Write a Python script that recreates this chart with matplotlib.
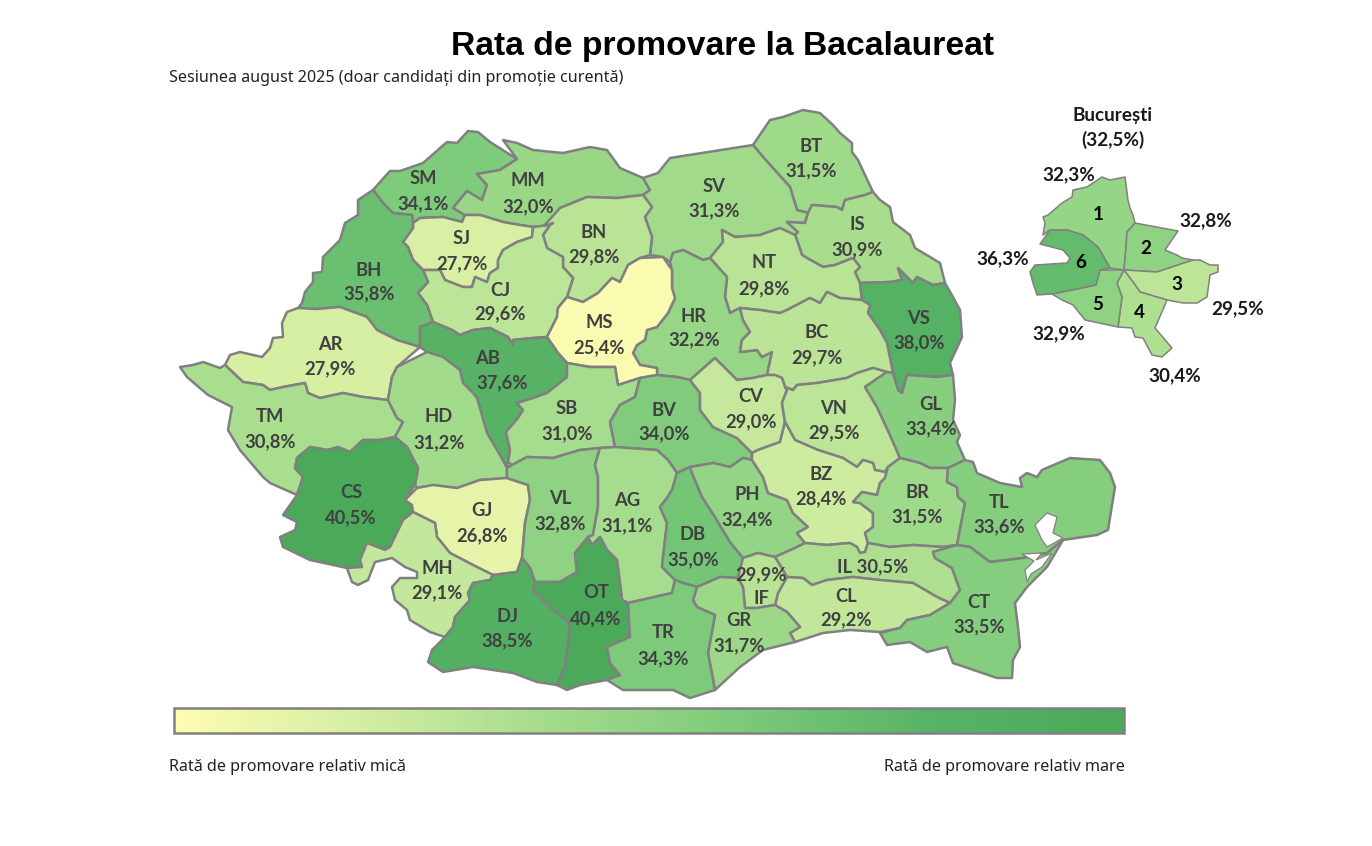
#!/usr/bin/env python3
"""Rata de promovare la Bacalaureat, sesiunea august 2025: harta pe judete."""

import matplotlib
matplotlib.use("Agg")
import matplotlib.pyplot as plt
import numpy as np
from matplotlib.colors import LinearSegmentedColormap, Normalize
from matplotlib.patches import Polygon, Rectangle

# Date citite de pe harta
COUNTIES = ["SM", "MM", "BT", "SV", "IS", "NT", "BN", "SJ", "CJ", "BH", "HR", "MS",
            "AB", "AR", "VS", "BC", "SB", "BV", "CV", "VN", "GL", "TM", "HD", "CS",
            "GJ", "VL", "AG", "DB", "PH", "BZ", "BR", "TL", "MH", "IL", "CL", "IF",
            "GR", "CT", "DJ", "OT", "TR"]
RATES = [34.1, 32.0, 31.5, 31.3, 30.9, 29.8, 29.8, 27.7, 29.6, 35.8, 32.2, 25.4,
         37.6, 27.9, 38.0, 29.7, 31.0, 34.0, 29.0, 29.5, 33.4, 30.8, 31.2, 40.5,
         26.8, 32.8, 31.1, 35.0, 32.4, 28.4, 31.5, 33.6, 29.1, 30.5, 29.2, 29.9,
         31.7, 33.5, 38.5, 40.4, 34.3]
SECTORS = ["1", "2", "3", "4", "5", "6"]
SECTOR_RATES = [32.3, 32.8, 29.5, 30.4, 32.9, 36.3]
BUCHAREST_RATE = 32.5

TITLE = "Rata de promovare la Bacalaureat"
SUBTITLE = "Sesiunea august 2025 (doar candidați din promoție curentă)"
LEGEND_LOW = "Rată de promovare relativ mică"
LEGEND_HIGH = "Rată de promovare relativ mare"

# Contururile judetelor, in pixeli ai imaginii
OUTLINES = {
    "SM": [(373,190),(390,171),(400,171),(423,163),(447,142),(457,143),(468,131),(478,132),(490,142),(517,159),(500,170),(477,174),(487,185),(482,200),(467,191),(453,208),(465,215),(462,222),(443,217),(420,218),(413,223),(412,215),(393,213),(383,203)],
    "MM": [(503,140),(517,143),(533,150),(563,153),(590,147),(607,150),(620,168),(643,178),(650,190),(643,195),(617,198),(587,197),(560,208),(553,223),(550,225),(533,227),(520,225),(503,222),(480,215),(465,215),(453,208),(467,191),(482,200),(487,185),(477,174),(500,170),(517,159)],
    "SJ": [(413,223),(420,218),(443,217),(462,222),(465,215),(480,215),(503,222),(520,225),(533,227),(532,237),(517,242),(503,250),(498,260),(498,268),(490,273),(487,282),(475,277),(472,287),(463,287),(445,280),(440,270),(423,270),(413,260),(408,247),(403,242),(413,228)],
    "BH": [(373,190),(358,200),(358,215),(345,223),(340,240),(323,257),(322,272),(313,273),(313,282),(305,292),(302,303),(298,308),(317,309),(340,307),(367,317),(377,330),(397,340),(420,347),(420,327),(433,322),(427,305),(418,293),(428,282),(423,270),(413,260),(408,247),(403,242),(413,228),(413,223),(412,215),(393,213),(383,203)],
    "CJ": [(533,227),(550,225),(543,235),(547,248),(563,257),(563,267),(573,278),(567,297),(558,308),(557,317),(547,337),(533,338),(513,340),(513,345),(508,337),(490,328),(473,330),(460,335),(452,330),(433,322),(427,305),(418,293),(428,282),(423,270),(440,270),(445,280),(463,287),(472,287),(475,277),(487,282),(490,273),(498,268),(498,260),(503,250),(517,242),(532,237)],
    "AB": [(420,327),(433,322),(452,330),(460,335),(473,330),(490,328),(508,337),(513,345),(513,340),(533,338),(547,337),(558,353),(567,363),(567,377),(547,393),(533,398),(517,403),(523,410),(518,418),(506,432),(510,450),(508,462),(507,468),(500,455),(487,433),(477,398),(473,393),(463,383),(460,370),(443,357),(427,352),(420,347)],
    "MS": [(567,297),(583,302),(598,293),(612,278),(620,282),(628,265),(640,258),(663,257),(672,270),(672,288),(675,298),(668,313),(657,327),(647,330),(645,340),(637,345),(633,353),(640,365),(657,368),(657,375),(640,378),(618,385),(615,367),(590,367),(567,363),(558,353),(547,337),(557,317),(558,308)],
    "BN": [(543,227),(560,208),(587,197),(617,198),(643,195),(652,207),(645,217),(652,237),(650,255),(640,258),(628,265),(620,282),(612,278),(598,293),(583,302),(567,297),(573,278),(563,267),(563,257),(547,248),(543,235),(550,225),(553,223)],
    "SV": [(643,178),(658,173),(670,158),(753,145),(763,157),(790,187),(797,210),(808,213),(805,223),(787,222),(798,232),(795,235),(780,228),(760,235),(735,237),(722,230),(723,242),(710,258),(703,260),(683,250),(673,253),(670,262),(663,257),(650,255),(652,237),(645,217),(652,207),(643,195),(650,190)],
    "BT": [(753,145),(770,120),(783,117),(803,110),(820,113),(833,125),(840,133),(852,143),(852,152),(858,160),(865,175),(873,192),(865,195),(845,200),(842,210),(837,207),(812,205),(808,213),(797,210),(790,187),(763,157)],
    "IS": [(808,213),(812,205),(837,207),(842,210),(845,200),(865,195),(873,192),(880,200),(890,207),(893,222),(910,235),(915,248),(940,263),(945,283),(933,285),(917,277),(913,283),(898,268),(902,280),(890,282),(860,283),(855,272),(860,267),(853,258),(835,265),(823,267),(807,258),(802,255),(797,240),(795,235),(798,232),(787,222),(805,223)],
    "NT": [(710,258),(723,242),(722,230),(735,237),(760,235),(780,228),(795,235),(797,240),(802,255),(807,258),(823,267),(835,265),(853,258),(860,267),(855,272),(860,283),(862,300),(840,298),(827,292),(820,303),(810,298),(787,310),(780,313),(760,310),(740,308),(730,313),(725,297),(727,277),(718,267)],
    "HR": [(670,262),(673,253),(683,250),(703,260),(710,258),(718,267),(727,277),(725,297),(730,313),(740,308),(743,320),(750,332),(742,340),(740,352),(757,350),(762,357),(772,352),(767,375),(753,378),(737,380),(715,358),(690,380),(677,377),(657,375),(657,368),(640,365),(633,353),(637,345),(645,340),(647,330),(657,327),(668,313),(675,298),(672,288),(672,270)],
    "VS": [(945,283),(953,297),(960,310),(962,337),(950,363),(953,375),(937,377),(907,375),(902,393),(898,390),(893,373),(887,343),(880,330),(868,313),(870,305),(862,300),(860,283),(890,282),(902,280),(898,268),(913,283),(917,277),(933,285)],
    "BC": [(740,308),(760,310),(780,313),(787,310),(810,298),(820,303),(827,292),(840,298),(862,300),(870,305),(868,313),(880,330),(887,343),(893,373),(887,372),(873,368),(857,373),(847,378),(817,383),(797,385),(793,390),(785,387),(782,378),(775,375),(767,375),(772,352),(762,357),(757,350),(740,352),(742,340),(750,332),(743,320)],
    "CV": [(690,380),(715,358),(737,380),(753,378),(767,375),(775,375),(782,378),(785,387),(787,390),(782,403),(785,422),(780,442),(758,450),(752,453),(737,438),(713,427),(700,410),(700,393)],
    "VN": [(785,387),(793,390),(797,385),(817,383),(847,378),(857,373),(873,368),(887,372),(865,387),(877,407),(890,435),(900,458),(888,467),(885,472),(875,470),(873,463),(863,460),(857,467),(843,458),(818,450),(795,440),(785,422),(782,403),(787,390)],
    "GL": [(865,387),(887,372),(893,373),(898,390),(902,393),(907,375),(937,377),(953,375),(955,400),(953,420),(960,435),(957,442),(965,460),(948,468),(930,468),(920,463),(900,458),(890,435),(877,407)],
    "BR": [(888,467),(900,458),(920,463),(930,468),(948,468),(947,482),(957,487),(958,497),(965,503),(957,545),(943,547),(913,545),(890,547),(868,543),(865,533),(873,527),(873,513),(860,503),(853,502),(862,492),(877,495),(880,483),(885,478)],
    "TL": [(948,468),(965,460),(973,462),(977,473),(1000,483),(1022,487),(1020,478),(1027,473),(1037,477),(1042,470),(1070,458),(1100,460),(1110,473),(1115,487),(1108,530),(1097,535),(1063,540),(1047,553),(1023,558),(990,562),(970,547),(957,545),(965,503),(958,497),(957,487),(947,482)],
    "CT": [(957,545),(970,547),(990,562),(1023,558),(1047,553),(1063,540),(1047,567),(1027,587),(1015,603),(1018,627),(1020,647),(1013,660),(1012,678),(997,678),(953,663),(947,647),(927,652),(910,642),(887,645),(880,633),(900,628),(907,620),(930,615),(950,603),(960,590),(952,568),(935,558),(933,552)],
    "IL": [(805,543),(827,545),(850,543),(857,547),(860,553),(865,552),(868,543),(890,547),(913,545),(943,547),(957,545),(933,552),(935,558),(952,568),(960,590),(950,603),(937,597),(913,583),(880,580),(853,577),(827,580),(812,585),(803,578),(787,577),(775,557),(795,548)],
    "CL": [(787,577),(803,578),(812,585),(827,580),(853,577),(880,580),(913,583),(937,597),(950,603),(930,615),(907,620),(900,628),(880,632),(850,630),(823,633),(795,642),(790,633),(800,627),(787,612),(775,605),(778,593)],
    "IF": [(743,558),(758,553),(775,557),(787,577),(778,593),(775,605),(757,608),(745,608),(743,587),(738,578)],
    "GR": [(693,600),(697,587),(720,577),(738,578),(743,587),(745,608),(757,608),(775,605),(787,612),(800,627),(790,633),(795,642),(763,650),(740,667),(715,690),(708,653),(715,615),(697,607)],
    "PH": [(690,467),(713,463),(730,467),(743,458),(752,460),(763,477),(768,493),(787,500),(793,513),(808,527),(797,533),(805,543),(795,548),(775,557),(758,553),(743,558),(730,542),(715,517),(702,497),(692,473)],
    "BZ": [(752,453),(758,450),(780,442),(785,422),(795,440),(818,450),(843,458),(857,467),(863,460),(873,463),(875,470),(885,472),(888,467),(885,478),(880,483),(877,495),(862,492),(853,502),(860,503),(873,513),(873,527),(865,533),(868,543),(865,552),(860,553),(857,547),(850,543),(827,545),(805,543),(797,533),(808,527),(793,513),(787,500),(768,493),(763,477),(752,460)],
    "BV": [(615,447),(610,422),(620,405),(635,397),(640,378),(657,375),(677,377),(690,380),(700,393),(700,410),(713,427),(737,438),(752,453),(752,460),(743,458),(730,467),(713,463),(690,467),(677,473),(668,460),(657,450)],
    "SB": [(506,432),(518,418),(523,410),(517,403),(533,398),(547,393),(567,377),(567,363),(590,367),(615,367),(618,385),(640,378),(635,397),(620,405),(610,422),(615,447),(600,448),(580,450),(553,458),(527,457),(512,465),(508,462),(510,450)],
    "VL": [(507,468),(512,465),(527,457),(553,458),(580,450),(600,448),(595,465),(598,477),(598,507),(593,535),(588,537),(575,553),(577,572),(560,582),(535,582),(530,568),(522,558),(525,523),(530,500),(528,485),(513,480),(507,478)],
    "GJ": [(405,500),(417,488),(433,485),(457,488),(480,480),(507,478),(513,480),(528,485),(530,500),(525,523),(522,558),(517,572),(493,575),(473,565),(450,553),(437,537),(435,523),(413,512),(412,505)],
    "HD": [(427,352),(443,357),(460,370),(463,383),(473,393),(477,398),(487,433),(500,455),(507,468),(507,478),(480,480),(457,488),(433,485),(417,488),(415,485),(418,468),(407,447),(395,437),(403,422),(397,418),(388,400),(392,377),(397,367)],
    "AR": [(298,308),(287,312),(282,323),(283,337),(273,338),(270,348),(262,357),(240,352),(230,355),(225,365),(243,382),(263,385),(270,390),(283,387),(305,383),(308,393),(320,398),(343,393),(363,397),(388,400),(392,377),(397,367),(420,347),(397,340),(377,330),(367,317),(340,307),(317,309)],
    "TM": [(180,367),(193,365),(203,362),(220,368),(225,365),(243,382),(263,385),(270,390),(283,387),(305,383),(308,393),(320,398),(343,393),(363,397),(388,400),(397,418),(403,422),(395,437),(380,440),(363,440),(350,452),(338,447),(328,450),(310,447),(297,458),(295,468),(303,477),(297,495),(270,483),(263,477),(240,450),(228,430),(232,407),(208,395),(187,377)],
    "CS": [(297,458),(310,447),(328,450),(338,447),(350,452),(363,440),(380,440),(395,437),(407,447),(418,468),(415,485),(405,500),(412,505),(413,512),(403,520),(390,547),(385,550),(367,543),(360,560),(362,567),(347,568),(310,560),(283,547),(280,537),(295,530),(297,522),(283,515),(297,495),(303,477),(295,468)],
    "MH": [(413,512),(435,523),(437,537),(450,553),(473,565),(493,575),(490,580),(473,583),(468,593),(470,600),(455,617),(453,627),(445,637),(430,632),(410,620),(407,610),(395,600),(392,587),(400,578),(417,578),(417,572),(405,567),(392,558),(375,562),(368,580),(358,585),(352,582),(347,568),(362,567),(360,560),(367,543),(385,550),(390,547),(403,520)],
    "DJ": [(493,575),(517,572),(522,558),(530,568),(535,582),(533,590),(550,607),(570,623),(568,647),(565,667),(557,685),(537,682),(513,673),(473,667),(443,672),(428,662),(432,650),(445,637),(453,627),(455,617),(470,600),(468,593),(473,583),(490,580)],
    "OT": [(535,582),(560,582),(577,572),(575,553),(588,537),(592,545),(600,537),(607,550),(617,560),(622,600),(628,603),(630,637),(607,647),(610,663),(620,675),(607,680),(580,685),(567,690),(557,685),(565,667),(568,647),(570,623),(550,607),(533,590)],
    "AG": [(600,448),(615,447),(657,450),(668,460),(677,473),(672,490),(667,498),(660,507),(667,523),(663,557),(662,567),(675,580),(672,593),(628,603),(622,600),(617,560),(607,550),(600,537),(592,545),(588,537),(593,535),(598,507),(598,477),(595,465)],
    "DB": [(677,473),(690,467),(692,473),(702,497),(715,517),(730,542),(743,558),(738,578),(720,577),(697,587),(683,583),(675,580),(662,567),(663,557),(667,523),(660,507),(667,498),(672,490)],
    "TR": [(628,603),(672,593),(675,580),(683,583),(697,587),(693,600),(697,607),(715,615),(708,653),(715,690),(690,698),(673,690),(623,690),(607,680),(620,675),(610,663),(607,647),(630,637)],
}

SECTOR_OUTLINES = {
    "1": [(1043,217),(1048,215),(1062,203),(1072,197),(1073,190),(1087,187),(1102,177),(1110,180),(1125,177),(1128,200),(1130,208),(1133,215),(1135,223),(1127,232),(1126,247),(1124,270),(1110,268),(1098,247),(1083,235),(1067,230),(1050,230),(1043,235),(1045,223)],
    "6": [(1040,244),(1050,230),(1067,230),(1083,235),(1098,247),(1110,268),(1100,270),(1096,285),(1052,294),(1037,295),(1033,283),(1030,272),(1035,265),(1067,263),(1070,258),(1063,250)],
    "2": [(1135,223),(1178,231),(1165,250),(1177,255),(1182,258),(1193,260),(1157,272),(1124,270),(1126,247),(1127,232)],
    "3": [(1193,260),(1200,260),(1210,265),(1218,265),(1218,272),(1210,275),(1207,297),(1197,303),(1183,303),(1167,300),(1140,292),(1133,282),(1124,270),(1157,272)],
    "4": [(1124,270),(1133,282),(1140,292),(1167,300),(1155,328),(1172,348),(1162,357),(1152,355),(1143,338),(1135,337),(1132,328),(1118,327),(1122,297),(1117,283)],
    "5": [(1100,270),(1124,270),(1117,283),(1122,297),(1118,327),(1085,320),(1073,305),(1062,300),(1052,294),(1096,285)],
}

LAKES = [
    [(1035,525),(1047,513),(1057,517),(1053,533),(1063,538),(1047,547),(1042,540)],
    [(1022,554),(1042,553),(1036,560),(1052,553),(1042,567),(1031,574),(1027,582),(1025,570),(1034,561)],
]

# Pozitiile etichetelor: x, y pentru nume, y pentru valoare
LABEL_POS = {
    "SM": (423,178,204), "MM": (528,181,207), "BT": (811,147,171), "SV": (714,186,211),
    "IS": (857,224,250), "NT": (764,263,289), "BN": (594,233,257), "SJ": (462,238,264),
    "CJ": (500,290,314), "BH": (369,270,294), "HR": (694,316,340), "MS": (599,323,348),
    "AB": (488,358,383), "AR": (330,344,369), "VS": (919,318,343), "BC": (817,332,358),
    "SB": (567,409,434), "BV": (664,410,434), "CV": (751,396,422), "VN": (834,408,433),
    "GL": (931,404,429), "TM": (270,417,442), "HD": (439,417,443), "CS": (351,492,518),
    "GJ": (482,510,536), "VL": (560,499,524), "AG": (627,500,526), "DB": (693,535,560),
    "PH": (747,494,520), "BZ": (821,474,499), "BR": (917,492,517), "TL": (999,502,527),
    "MH": (437,568,593), "CL": (846,597,620), "IF": (761,599,575), "GR": (739,621,646),
    "CT": (979,602,627), "DJ": (507,617,641), "OT": (596,593,619), "TR": (663,633,659),
}
VALUE_X = {"AB": 502}
SECTOR_NUM_POS = {"1": (1098,215), "2": (1146,249), "3": (1177,284),
                  "4": (1139,312), "5": (1098,304), "6": (1081,263)}
SECTOR_RATE_POS = {"1": (1069,175), "2": (1206,221), "3": (1238,309),
                   "4": (1175,376), "5": (1059,334), "6": (1003,259)}

CMAP = LinearSegmentedColormap.from_list(
    "promovare", ["#FDFDB2", "#D3EEA2", "#A3DB8C", "#7CCA7A", "#58B366", "#4BA95A"])
NORM = Normalize(25.0, 40.5)
EDGE = "#808080"
TEXT = "#404040"
LABEL_FONT = "Lato"


def fmt(v):
    return f"{v:.1f}%".replace(".", ",")


fig = plt.figure(figsize=(13.72, 8.46), dpi=100)
ax = fig.add_axes([0, 0, 1, 1])

for name, rate in zip(COUNTIES, RATES):
    ax.add_patch(Polygon(OUTLINES[name], closed=True, facecolor=CMAP(NORM(rate)),
                         edgecolor=EDGE, linewidth=1.8, joinstyle="round"))
for lake in LAKES:
    ax.add_patch(Polygon(lake, closed=True, facecolor="white", edgecolor=EDGE, linewidth=0.9))
for name, rate in zip(SECTORS, SECTOR_RATES):
    ax.add_patch(Polygon(SECTOR_OUTLINES[name], closed=True, facecolor=CMAP(NORM(rate)),
                         edgecolor=EDGE, linewidth=1.1, joinstyle="round"))

lab = dict(ha="center", va="center", family=LABEL_FONT, fontsize=13.2, color=TEXT, fontweight="bold")
for name, rate in zip(COUNTIES, RATES):
    if name == "IL":
        ax.text(873, 567, f"IL {fmt(rate)}", **lab)
        continue
    x, y1, y2 = LABEL_POS[name]
    ax.text(x, y1, name, **lab)
    ax.text(VALUE_X.get(name, x), y2, fmt(rate), **lab)

buc = dict(ha="center", va="center", family=LABEL_FONT, fontsize=13.6, color="#1a1a1a", fontweight="bold")
ax.text(1113, 115, "București", **buc)
ax.text(1113, 140, f"({fmt(BUCHAREST_RATE)})", **buc)
for name, rate in zip(SECTORS, SECTOR_RATES):
    ax.text(*SECTOR_RATE_POS[name], fmt(rate), **buc)
    ax.text(*SECTOR_NUM_POS[name], name, **{**buc, "color": "black"})

ax.text(722.5, 46, TITLE, ha="center", va="center", family="Liberation Sans",
        fontweight="bold", fontsize=24.2, color="black")
ax.text(169, 77.5, SUBTITLE, ha="left", va="center", family="Noto Sans", fontsize=11.6, color="#222222")
ax.text(169, 767, LEGEND_LOW, ha="left", va="center", family="Noto Sans", fontsize=11.6, color="#222222")
ax.text(1125, 767, LEGEND_HIGH, ha="right", va="center", family="Noto Sans", fontsize=11.6, color="#222222")

grad = np.linspace(0, 1, 512).reshape(1, -1)
ax.imshow(grad, cmap=CMAP, extent=(174, 1124, 733, 708), aspect="auto", zorder=2)
ax.add_patch(Rectangle((174, 708), 950, 25, fill=False, edgecolor=EDGE, linewidth=1.8, zorder=3))

ax.set_xlim(0, 1372)
ax.set_ylim(846, 0)
ax.axis("off")
fig.savefig("out.png", dpi=100)
